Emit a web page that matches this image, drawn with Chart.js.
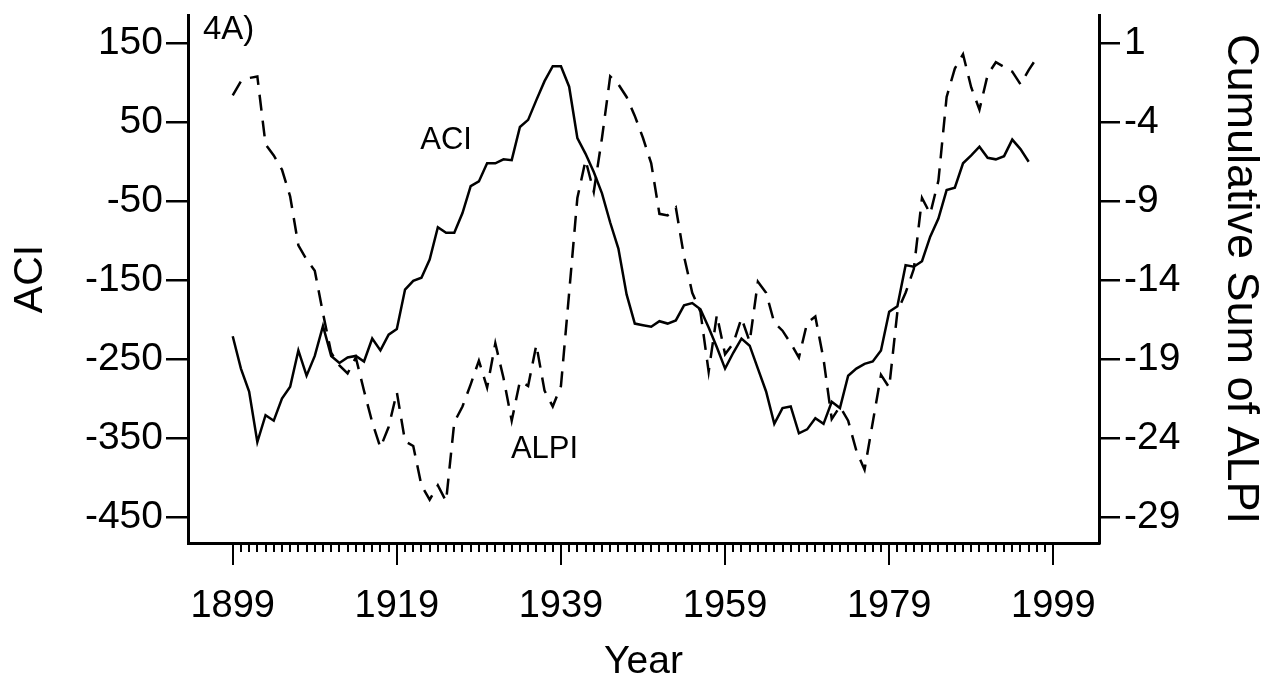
<!DOCTYPE html>
<html>
<head>
<meta charset="utf-8">
<script src="https://cdn.jsdelivr.net/npm/chart.js@4.4.1/dist/chart.umd.min.js"></script>
<style>
  html, body { margin: 0; padding: 0; background: #fff; }
  #wrap { width: 1273px; height: 688px; }
</style>
</head>
<body>
<div id="wrap"><canvas id="lineChart" width="1273" height="688"></canvas></div>
<script>
// years and series
const aciYears = [];
for (let y = 1899; y <= 1996; y++) aciYears.push(y);
const alpiYears = [];
for (let y = 1899; y <= 1997; y++) alpiYears.push(y);

const aciValues = [
  -221, -262, -291, -355, -321, -328, -300, -285, -239, -271,
  -246, -208, -246, -255, -248, -246, -253, -224, -239, -219,
  -212, -162, -151, -147, -124, -83, -90, -90, -65, -31,
  -25, -2, -2, 3, 2, 44, 53, 78, 102, 121,
  121, 95, 30, 10, -13, -40, -77, -110, -168, -205,
  -207, -209, -202, -205, -201, -182, -179, -187, -210, -235,
  -262, -242, -224, -233, -262, -291, -332, -312, -310, -344,
  -339, -325, -332, -304, -312, -271, -262, -256, -253, -239,
  -190, -183, -131, -133, -126, -95, -72, -36, -33, -2,
  8, 19, 5, 3, 7, 28, 16, 0
];

const alpiValues = [
  -2.3, -1.4, -1.2, -1.1, -5.4, -6.1, -7.0, -8.7, -11.8, -12.7,
  -13.4, -16.1, -18.6, -19.4, -19.9, -18.9, -21.0, -23.0, -24.6, -23.3,
  -21.1, -24.2, -24.5, -27.0, -27.9, -27.0, -28.0, -23.0, -22.0, -20.6,
  -19.1, -20.8, -18.0, -20.2, -22.9, -20.4, -20.7, -18.1, -21.0, -22.0,
  -20.7, -14.8, -8.8, -6.4, -8.4, -5.0, -1.1, -1.6, -2.4, -3.6,
  -5.0, -6.6, -9.8, -9.9, -9.4, -12.5, -14.8, -16.0, -19.8, -16.2,
  -18.7, -18.0, -16.4, -17.9, -14.1, -14.8, -16.7, -17.2, -18.0, -18.9,
  -16.7, -16.3, -19.0, -22.8, -22.0, -22.9, -24.8, -26.0, -23.0, -20.0,
  -20.8, -16.0, -14.8, -13.3, -8.8, -9.8, -7.7, -2.4, -0.6, 0.3,
  -1.8, -3.2, -1.0, -0.2, -0.5, -0.8, -1.6, -0.7, 0.1
];

const xMajorTicks = [1899, 1919, 1939, 1959, 1979, 1999];
const leftTicks = [150, 50, -50, -150, -250, -350, -450];
const rightTicks = [1, -4, -9, -14, -19, -24, -29];

const FONT = "'Liberation Sans', Arial, Helvetica, sans-serif";

// minor (yearly) and major ticks under the x axis, plus the text notes
const yearTicks = {
  id: 'yearTicks',
  afterDraw(chart) {
    const ctx = chart.ctx;
    const x = chart.scales.x;
    const y = chart.scales.y;
    const top = x.top;
    ctx.save();
    ctx.strokeStyle = '#000';
    ctx.lineWidth = 2;
    const first = xMajorTicks[0], last = xMajorTicks[xMajorTicks.length - 1];
    for (let yr = first; yr <= last; yr++) {
      const px = Math.round(x.getPixelForValue(yr));
      const len = xMajorTicks.includes(yr) ? 22 : 9;
      ctx.beginPath();
      ctx.moveTo(px, top);
      ctx.lineTo(px, top + len);
      ctx.stroke();
    }
    ctx.fillStyle = '#000';
    ctx.textBaseline = 'alphabetic';
    ctx.textAlign = 'left';
    ctx.font = '33px ' + FONT;
    ctx.fillText('4A)', chart.chartArea.left + 15, chart.chartArea.top + 24);
    ctx.textBaseline = 'middle';
    ctx.textAlign = 'center';
    ctx.font = '31px ' + FONT;
    ctx.fillText('ACI', x.getPixelForValue(1925), y.getPixelForValue(27));
    ctx.fillText('ALPI', x.getPixelForValue(1937), y.getPixelForValue(-364));
    ctx.restore();
  }
};

function noPad(s) {
  s.paddingTop = 0;
  s.paddingBottom = 0;
}

const ctx = document.getElementById('lineChart').getContext('2d');
const chart = new Chart(ctx, {
  type: 'line',
  data: {
    datasets: [{
      label: 'ACI',
      data: aciYears.map((yr, i) => ({ x: yr, y: aciValues[i] })),
      yAxisID: 'y',
      borderColor: '#000',
      borderWidth: 2.5,
      pointRadius: 0,
      fill: false,
      tension: 0
    }, {
      label: 'ALPI',
      data: alpiYears.map((yr, i) => ({ x: yr, y: alpiValues[i] })),
      yAxisID: 'y2',
      borderColor: '#000',
      borderWidth: 2.5,
      borderDash: [16, 10],
      pointRadius: 0,
      fill: false,
      tension: 0
    }]
  },
  options: {
    responsive: false,
    animation: false,
    devicePixelRatio: 1,
    layout: { padding: { top: 15, left: 0, right: 0, bottom: 0 } },
    plugins: { legend: { display: false }, tooltip: { enabled: false } },
    scales: {
      x: {
        type: 'linear',
        min: 1893.55,
        max: 2004.57,
        afterBuildTicks: s => { s.ticks = xMajorTicks.map(v => ({ value: v })); },
        afterFit: s => { s.height = 145; s.paddingLeft = 0; s.paddingRight = 0; },
        grid: { display: false, drawTicks: false },
        border: { display: true, color: '#000', width: 3 },
        ticks: {
          color: '#000',
          padding: 41,
          maxRotation: 0,
          autoSkip: false,
          font: { family: FONT, size: 38 },
          callback: v => String(v)
        },
        title: {
          display: true,
          text: 'Year',
          color: '#000',
          font: { family: FONT, size: 39 },
          padding: { top: 0, bottom: 2 }
        }
      },
      y: {
        position: 'left',
        min: -482.9,
        max: 185.8,
        afterBuildTicks: s => { s.ticks = leftTicks.map(v => ({ value: v })); },
        afterFit: s => { s.width = 188; noPad(s); },
        grid: { drawOnChartArea: false, drawTicks: true, tickLength: 22, color: '#000', lineWidth: 2.5 },
        border: { display: true, color: '#000', width: 3 },
        ticks: {
          color: '#000',
          padding: 3,
          font: { family: FONT, size: 39 },
          callback: v => String(v)
        },
        title: {
          display: true,
          text: 'ACI',
          color: '#000',
          font: { family: FONT, size: 41 },
          padding: { top: 6, bottom: 0 }
        }
      },
      y2: {
        position: 'right',
        min: -30.645,
        max: 2.79,
        afterBuildTicks: s => { s.ticks = rightTicks.map(v => ({ value: v })); },
        afterFit: s => { s.width = 174; noPad(s); },
        grid: { drawOnChartArea: false, drawTicks: true, tickLength: 21, color: '#000', lineWidth: 2.5 },
        border: { display: true, color: '#000', width: 3 },
        ticks: {
          color: '#000',
          padding: 4,
          font: { family: FONT, size: 39 },
          callback: v => String(v)
        },
        title: {
          display: true,
          text: 'Cumulative Sum of ALPI',
          color: '#000',
          font: { family: FONT, size: 45 },
          padding: { top: 6, bottom: 0 }
        }
      }
    }
  },
  plugins: [yearTicks]
});
</script>
</body>
</html>
